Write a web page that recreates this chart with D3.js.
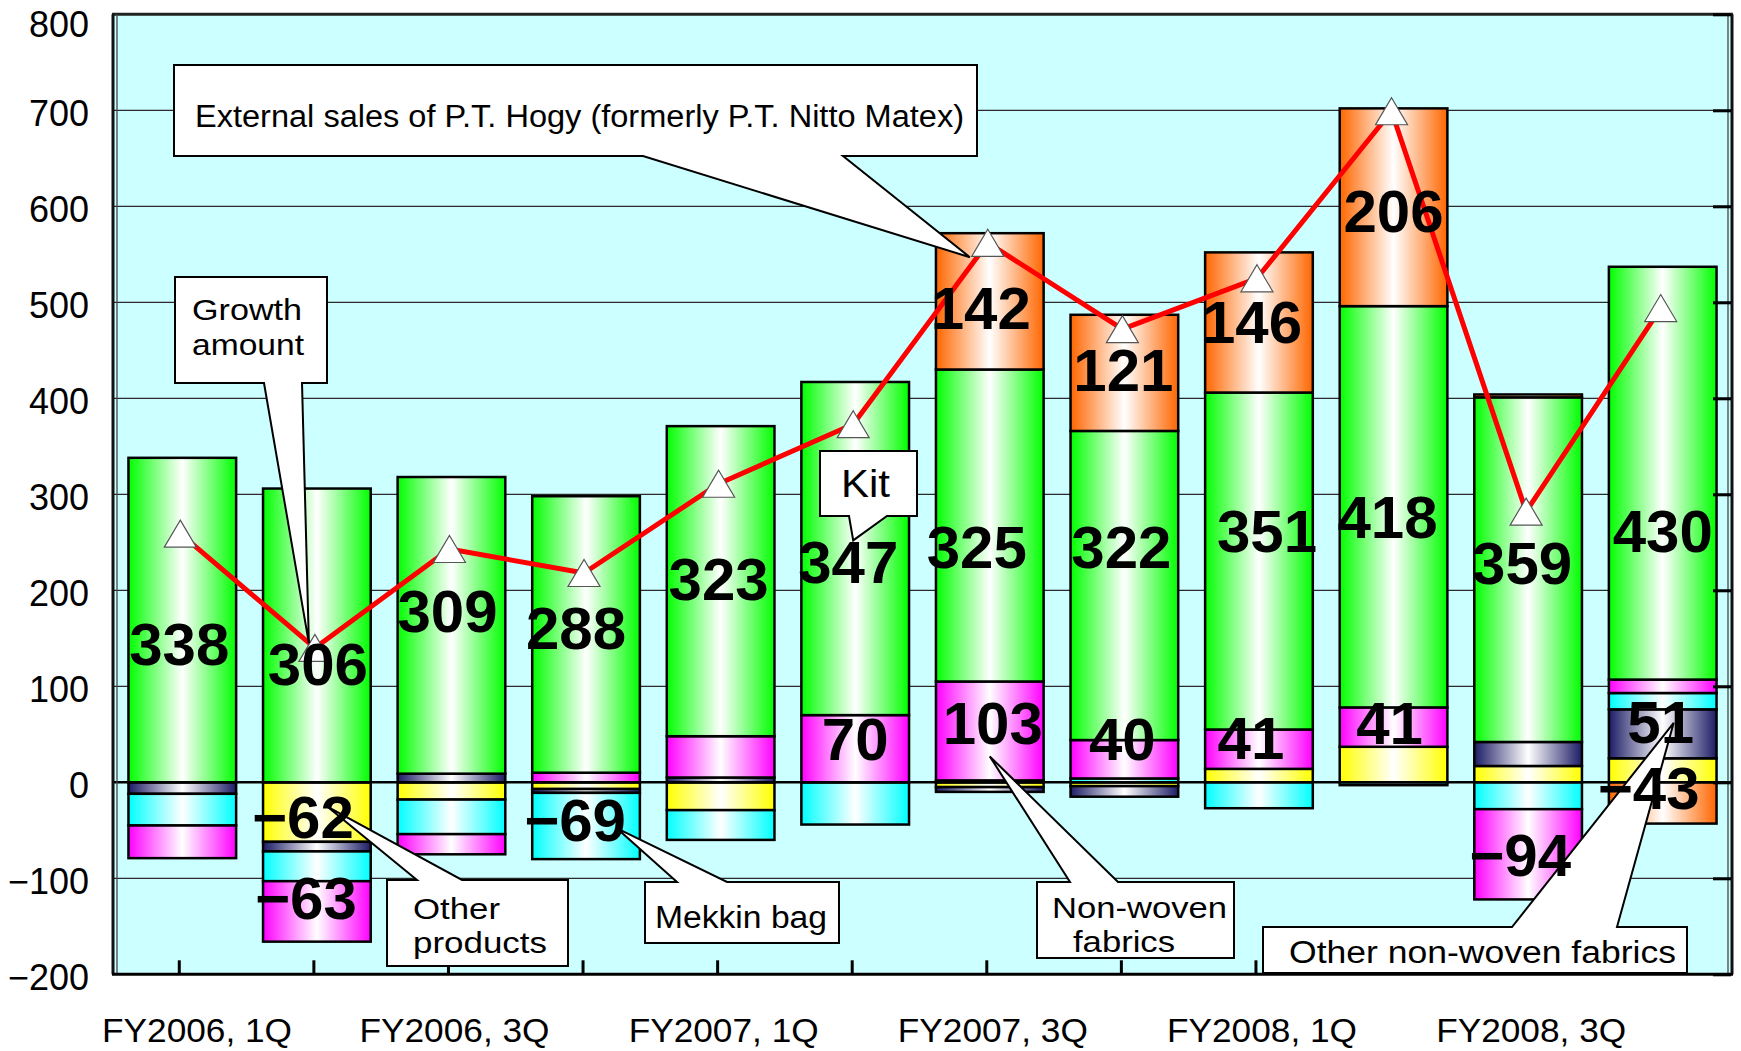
<!DOCTYPE html>
<html><head><meta charset="utf-8">
<script src="https://cdn.jsdelivr.net/npm/d3@7"></script>
<style>html,body{margin:0;padding:0;background:#fff;} svg{display:block;}</style>
</head><body>
<svg id="chart" width="1741" height="1051"></svg>
<script>
// ---------------- DATA ----------------
const categories = ["FY2006, 1Q","FY2006, 2Q","FY2006, 3Q","FY2006, 4Q","FY2007, 1Q","FY2007, 2Q","FY2007, 3Q","FY2007, 4Q","FY2008, 1Q","FY2008, 2Q","FY2008, 3Q","FY2008, 4Q"];
const tickLabelCategories = ["FY2006, 1Q","FY2006, 3Q","FY2007, 1Q","FY2007, 3Q","FY2008, 1Q","FY2008, 3Q"];
const yTicks = [-200,-100,0,100,200,300,400,500,600,700,800];

const seriesNames = ["Other products","Other non-woven fabrics","Mekkin bag","Non-woven fabrics","Kit","External sales of P.T. Hogy (formerly P.T. Nitto Matex)"];
const otherProducts = [0,-62,-18,-7,-29,0,-5,-4,14,37,17,25];
const otherNonWoven = [-12,-10,9,-4,5,0,-5,-11,0,0,25,51];
const mekkinBag     = [-33,-31,-36,-69,-31,-44,2,4,-27,-3,-28,17];
const nonWoven      = [-34,-63,-21,10,43,70,103,40,41,41,-94,14];
const kit           = [338,306,309,288,323,347,325,322,351,418,359,430];
const hogyExternal  = [0,0,0,0,0,0,142,121,146,206,3,-43];
const growthAmount  = [259,140,243,218,311,373,562,472,525,699,282,494];

// which data labels are shown, and where (value anchor in data units)
const labelSpecs = [
 {key:"kit",i:0,at:145,dx:-3},{key:"kit",i:1,at:124,dx:1},{key:"kit",i:2,at:179,dx:-4},{key:"kit",i:3,at:161,dx:-10},
 {key:"kit",i:4,at:212,dx:-2},{key:"kit",i:5,at:230,dx:-7},{key:"kit",i:6,at:246,dx:-13},{key:"kit",i:7,at:246,dx:-3},
 {key:"kit",i:8,at:262,dx:8},{key:"kit",i:9,at:277,dx:-6},{key:"kit",i:10,at:229,dx:-6},{key:"kit",i:11,at:262,dx:0},
 {key:"nonWoven",i:1,at:-120,dx:-11},{key:"nonWoven",i:5,at:46,dx:0},{key:"nonWoven",i:6,at:62,dx:3},
 {key:"nonWoven",i:7,at:46,dx:-2},{key:"nonWoven",i:8,at:47,dx:-8},{key:"nonWoven",i:9,at:62,dx:-4},{key:"nonWoven",i:10,at:-75,dx:-8},
 {key:"otherProducts",i:1,at:-35,dx:-14},
 {key:"mekkinBag",i:3,at:-39,dx:-11},
 {key:"otherNonWoven",i:11,at:63,dx:-2},
 {key:"hogyExternal",i:6,at:495,dx:-9},{key:"hogyExternal",i:7,at:430,dx:-1},{key:"hogyExternal",i:8,at:480,dx:-7},
 {key:"hogyExternal",i:9,at:596,dx:0},{key:"hogyExternal",i:11,at:-5,dx:-14}
];

// callout annotations (tip anchored to data)
const callouts = [
 {lines:["External sales of P.T. Hogy (formerly P.T. Nitto Matex)"], box:[174,65,977,156], side:"bottom", base:[643,843], tip:{i:6,v:547,dx:-20}, tx:[195], ty:[127], tl:[769], size:31},
 {lines:["Growth","amount"], box:[175,277,327,383], side:"bottom", base:[264,302], tip:{i:1,v:145,dx:-8}, tx:[192,192], ty:[320,355], tl:[110,112], size:30},
 {lines:["Kit"], box:[820,451,917,516], side:"bottom", base:[849,887], tip:{i:5,v:252,dx:-2}, tx:[841], ty:[497], tl:[49], size:39},
 {lines:["Other","products"], box:[387,880,568,966], side:"top", base:[417,462], tip:{i:1,v:-25,dx:10}, tx:[413,413], ty:[919,953], tl:[87,134], size:30},
 {lines:["Mekkin bag"], box:[645,882,839,943], side:"top", base:[677,727], tip:{i:3,v:-48,dx:31}, tx:[655], ty:[928], tl:[172], size:31},
 {lines:["Non-woven","fabrics"], box:[1037,882,1234,958], side:"top", base:[1070,1118], tip:{i:6,v:27,dx:0}, tx:[1052,1073], ty:[918,952], tl:[175,102], size:30},
 {lines:["Other non-woven fabrics"], box:[1263,927,1687,973], side:"top", base:[1512,1617], tip:{i:11,v:62,dx:11}, tx:[1289], ty:[963], tl:[387], size:31}
];

// ---------------- SETUP ----------------
const keys = ["otherProducts","otherNonWoven","mekkinBag","nonWoven","kit","hogyExternal"];
const seriesArrays = {otherProducts, otherNonWoven, mekkinBag, nonWoven, kit, hogyExternal};
const colors = {otherProducts:"#ffff00", otherNonWoven:"#1c1c66", mekkinBag:"#00ffff", nonWoven:"#ff00ff", kit:"#00ff00", hogyExternal:"#ff6600"};

const svg = d3.select("#chart");
const plot = {left:114, right:1731, top:14.3, bottom:974.3};
const x = d3.scaleBand().domain(categories).range([115,1730]).paddingInner(0.2).paddingOuter(0.1);
const y = d3.scaleLinear().domain([-200,800]).range([plot.bottom, plot.top]);
const cx = i => x(categories[i]) + x.bandwidth()/2;

const table = categories.map((c,i)=>{const r={category:c}; keys.forEach(k=>r[k]=seriesArrays[k][i]); return r;});
const stacked = d3.stack().keys(keys).offset(d3.stackOffsetDiverging)(table);

// gradients
const defs = svg.append("defs");
keys.forEach(k=>{
  const g = defs.append("linearGradient").attr("id","g-"+k).attr("x1","0").attr("x2","1").attr("y1","0").attr("y2","0");
  g.append("stop").attr("offset","0").attr("stop-color",colors[k]);
  g.append("stop").attr("offset","0.5").attr("stop-color","#ffffff");
  g.append("stop").attr("offset","1").attr("stop-color",colors[k]);
});

// plot background
svg.append("rect").attr("x",plot.left).attr("y",plot.top).attr("width",plot.right-plot.left).attr("height",plot.bottom-plot.top).attr("fill","#ccffff");

// gridlines
svg.append("g").selectAll("line").data(yTicks.filter(v=>v>-200 && v<800)).join("line")
  .attr("x1",plot.left).attr("x2",plot.right).attr("y1",d=>y(d)).attr("y2",d=>y(d))
  .attr("stroke","#2a2a2a").attr("stroke-width",1.2);

// bars
const bars = svg.append("g");
stacked.forEach(s=>{
  bars.append("g").selectAll("rect").data(s.filter(d=>d[1]!==d[0])).join("rect")
    .attr("x",d=>x(d.data.category)).attr("width",x.bandwidth())
    .attr("y",d=>y(Math.max(d[0],d[1]))).attr("height",d=>Math.abs(y(d[0])-y(d[1])))
    .attr("fill","url(#g-"+s.key+")").attr("stroke","#000").attr("stroke-width",2.5);
});

// zero line
svg.append("line").attr("x1",plot.left).attr("x2",plot.right).attr("y1",y(0)).attr("y2",y(0)).attr("stroke","#000").attr("stroke-width",2.5);

// frame
const frame = svg.append("g").attr("fill","none");
frame.append("line").attr("x1",plot.left-2).attr("x2",plot.right+2).attr("y1",plot.top).attr("y2",plot.top).attr("stroke","#222").attr("stroke-width",3);
frame.append("line").attr("x1",plot.left-1).attr("x2",plot.left-1).attr("y1",plot.top).attr("y2",plot.bottom).attr("stroke","#111").attr("stroke-width",3);
frame.append("line").attr("x1",plot.left+3).attr("x2",plot.left+3).attr("y1",plot.top).attr("y2",plot.bottom).attr("stroke","#444").attr("stroke-width",1.3);
frame.append("line").attr("x1",plot.right+1).attr("x2",plot.right+1).attr("y1",plot.top).attr("y2",plot.bottom).attr("stroke","#111").attr("stroke-width",3);
frame.append("line").attr("x1",plot.right-3).attr("x2",plot.right-3).attr("y1",plot.top).attr("y2",plot.bottom).attr("stroke","#444").attr("stroke-width",1.3);

// right-side inward ticks
const rAxis = svg.append("g").attr("transform",`translate(${plot.right},0)`)
  .call(d3.axisRight(y).tickValues(yTicks).tickSize(-18).tickFormat(""));
rAxis.select(".domain").remove();
rAxis.selectAll("line").attr("stroke","#000").attr("stroke-width",3);

// bottom axis with inward ticks at each category
const bAxis = svg.append("g").attr("transform",`translate(0,${plot.bottom})`)
  .call(d3.axisBottom(x).tickSize(-14).tickFormat(""));
bAxis.select(".domain").remove();
bAxis.selectAll("line").attr("stroke","#000").attr("stroke-width",3).attr("transform","translate(-3,0)");
svg.append("line").attr("x1",plot.left-2).attr("x2",plot.right+2).attr("y1",plot.bottom).attr("y2",plot.bottom).attr("stroke","#000").attr("stroke-width",3);

// growth line
const line = d3.line().x((d,i)=>cx(i)-2).y(d=>y(d));
svg.append("path").datum(growthAmount).attr("d",line).attr("fill","none").attr("stroke","#ff0000").attr("stroke-width",5).attr("stroke-linejoin","round");
const tri = "M0,-13.5 L16,13.5 L-16,13.5 Z";
svg.append("g").selectAll("path").data(growthAmount).join("path")
  .attr("transform",(d,i)=>`translate(${cx(i)-2},${y(d)})`).attr("d",tri)
  .attr("fill","#fff").attr("stroke","#555").attr("stroke-width",1.2);

// callouts
const cg = svg.append("g");
callouts.forEach(c=>{
  const [x0,y0,x1,y1] = c.box;
  const tX = cx(c.tip.i)+c.tip.dx, tY = y(c.tip.v);
  const [bL,bR] = c.base;
  let p;
  if(c.side==="bottom"){
    p = `M${x0},${y0} H${x1} V${y1} H${bR} L${tX},${tY} L${bL},${y1} H${x0} Z`;
  } else {
    p = `M${x0},${y0} H${bL} L${tX},${tY} L${bR},${y0} H${x1} V${y1} H${x0} Z`;
  }
  cg.append("path").attr("d",p).attr("fill","#fff").attr("stroke","#000").attr("stroke-width",2).attr("stroke-linejoin","miter");
  c.lines.forEach((t,j)=>{
    cg.append("text").attr("x",c.tx[j]).attr("y",c.ty[j]).attr("textLength",c.tl[j]).attr("lengthAdjust","spacingAndGlyphs")
      .attr("font-family","'Liberation Sans',Arial,sans-serif").attr("font-size",c.size).attr("fill","#000").text(t);
  });
});

// data labels
const fmt = d3.format("d");
svg.append("g").selectAll("text").data(labelSpecs).join("text")
  .attr("x",d=>cx(d.i)+d.dx).attr("y",d=>y(d.at)).attr("dy","0.36em")
  .attr("text-anchor","middle").attr("font-family","'Liberation Sans',Arial,sans-serif").attr("font-weight","bold")
  .attr("font-size",60).attr("fill","#000")
  .text(d=>fmt(seriesArrays[d.key][d.i]));

// y-axis labels
const lAxis = svg.append("g").attr("transform",`translate(${plot.left},0)`)
  .call(d3.axisLeft(y).tickValues(yTicks).tickSize(0).tickPadding(25).tickFormat(d3.format("d")));
lAxis.select(".domain").remove();
lAxis.selectAll("text").attr("font-family","'Liberation Sans',Arial,sans-serif").attr("font-size",36).attr("fill","#000")
  .attr("dy",d=>d===800?"0.62em":"0.42em");

// x-axis labels
const xl = svg.append("g").attr("transform",`translate(0,${plot.bottom})`)
  .call(d3.axisBottom(x).tickValues(tickLabelCategories).tickSize(0).tickPadding(0));
xl.select(".domain").remove();
xl.selectAll("text").attr("font-family","'Liberation Sans',Arial,sans-serif").attr("font-size",34)
  .attr("fill","#000").attr("dy",0).attr("y",68)
  .attr("textLength",190).attr("lengthAdjust","spacingAndGlyphs")
  .attr("x",function(d){ const c = x(d)+x.bandwidth()/2; return Math.max(3, 102+95-c); });
</script>
</body></html>
